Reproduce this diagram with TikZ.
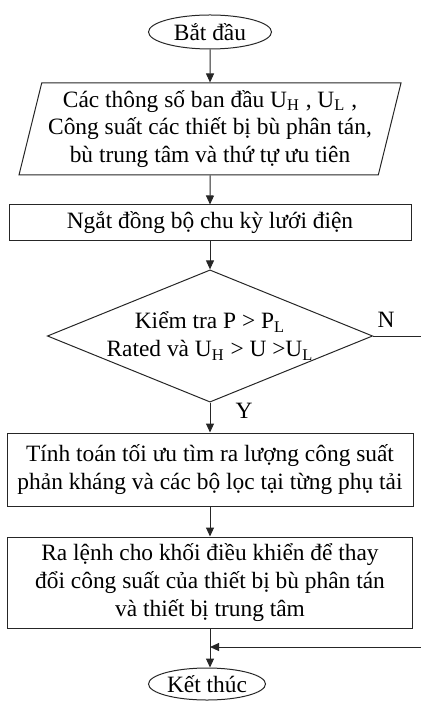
\documentclass[tikz,border=0pt]{standalone}
\usepackage{fontspec}
\setmainfont{Liberation Serif}
\usetikzlibrary{shapes.geometric,arrows.meta}

\tikzset{
  line/.style={draw=black!85, line width=0.5pt},
  flowarrow/.style={line, -{Triangle[length=4.5pt,width=4pt]}},
  terminal/.style={ellipse, line, inner sep=0pt},
  process/.style={rectangle, line, align=center, inner sep=0pt},
  iobox/.style={trapezium, trapezium left angle=73.6, trapezium right angle=106.4,
    trapezium stretches body, line, align=center, inner sep=0pt},
  decision/.style={diamond, line, aspect=2.46, align=center, inner sep=0pt,
    minimum width=162.5pt, minimum height=66pt},
}

\begin{document}
\begin{tikzpicture}[x=0.5pt,y=-0.5pt,font=\fontsize{11.7}{13.8}\selectfont]
    \useasboundingbox (0,0) rectangle (421,715);

    % các khối
    \node[terminal, minimum width=61.5pt, minimum height=17pt] (start) at (210,32) {Bắt đầu};
    \node[iobox, minimum width=191pt, minimum height=46pt] (params) at (210,129)
      {Các thông số ban đầu U\textsubscript{H} , U\textsubscript{L} ,\\
       Công suất các thiết bị bù phân tán,\\
       bù trung tâm và thứ tự ưu tiên};
    \node[process, minimum width=201pt, minimum height=18pt] (sync) at (210,223)
      {Ngắt đồng bộ chu kỳ lưới điện};
    \node[decision] (check) at (210,336)
      {Kiểm tra P > P\textsubscript{L}\\
       Rated và U\textsubscript{H} > U >U\textsubscript{L}};
    \node[process, minimum width=203pt, minimum height=36.5pt] (calc) at (210,469.5)
      {Tính toán tối ưu tìm ra lượng công suất\\
       phản kháng và các bộ lọc tại từng phụ tải};
    \node[process, minimum width=202.5pt, minimum height=45.5pt] (cmd) at (210,582.5)
      {Ra lệnh cho khối điều khiển để thay\\
       đổi công suất của thiết bị bù phân tán\\
       và thiết bị trung tâm};
    \node[terminal, minimum width=58.5pt, minimum height=16pt] (end) at (207,684) {Kết thúc};

    % nhãn
    \node (yes) at (244,411) {Y};
    \node (no) at (386,320) {N};

    % điểm nối
    \coordinate (nOut) at (421,336);
    \coordinate (nBack) at (421,647);
    \coordinate (join) at (210,647);

    % mũi tên
    \draw[flowarrow] (start) -- (params);
    \draw[flowarrow] (params) -- (sync);
    \draw[flowarrow] (sync) -- (check);
    \draw[flowarrow] (check) -- (calc);
    \draw[flowarrow] (calc) -- (cmd);
    \draw[line] (check.east) -- (nOut);
    \draw[flowarrow] (nBack) -- (join);
    \draw[line] (cmd) -- (join);
    \draw[flowarrow] (join) -- (join |- end.north);
\end{tikzpicture}
\end{document}
